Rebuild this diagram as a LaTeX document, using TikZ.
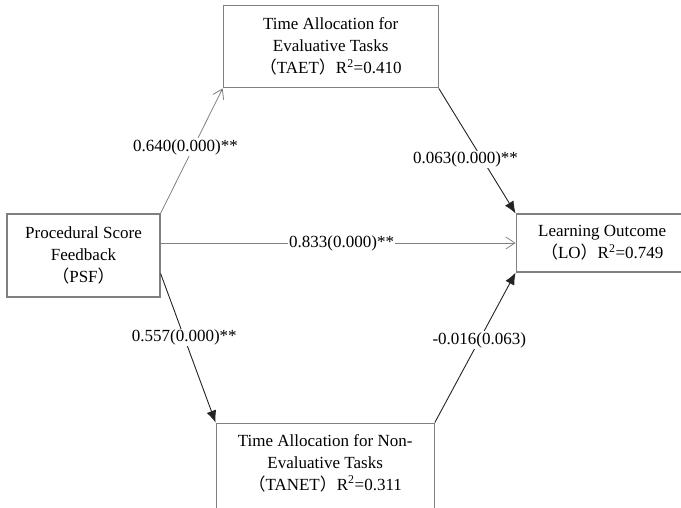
\documentclass[tikz,border=0pt]{standalone}
\usepackage{fontspec}
\setmainfont{Liberation Serif}
\newfontfamily\cjkfont{Noto Sans CJK SC}
\usetikzlibrary{positioning,arrows.meta}
\definecolor{linegray}{RGB}{128,128,128}
\definecolor{darkline}{RGB}{35,35,35}
\newcommand{\cjklp}{{\cjkfont （}}
\newcommand{\cjkrp}{{\cjkfont ）}}

\begin{document}
\begin{tikzpicture}[x=1pt,y=1pt,
    font=\fontsize{17}{22}\selectfont,
    box/.style={draw=linegray, line width=1.2pt, align=center, inner sep=0pt},
    coef/.style={fill=white, inner sep=1pt},
    weak/.style={draw=linegray, line width=0.8pt,
        -{Straight Barb[length=9pt,width=12pt]}},
    strong/.style={draw=darkline, line width=0.9pt,
        -{Latex[length=12pt,width=10pt]}}]
\useasboundingbox (0,0) rectangle (681,-507);
\clip (0,0) rectangle (681,-507);

% Procedural score feedback
\node[box,
    minimum width=153pt,
    minimum height=83pt
] (psf) at (83.5,-255.5) {Procedural Score\\Feedback\\\cjklp PSF\cjkrp};

% Time allocation for evaluative tasks
\node[box,
    minimum width=215pt,
    minimum height=82pt,
    above right=125pt and 62pt of psf.north east
] (taet) {Time Allocation for\\Evaluative Tasks\\\cjklp TAET\cjkrp R\textsuperscript{2}=0.410};

% Learning outcome
\node[box,
    minimum width=172pt,
    minimum height=58pt,
    below right=0pt and 355pt of psf.north east
] (lo) {Learning Outcome\\\cjklp LO\cjkrp R\textsuperscript{2}=0.749};

% Time allocation for non-evaluative tasks
\node[box,
    minimum width=218pt,
    minimum height=100pt,
    below right=125pt and 55pt of psf.south east
] (tanet) {Time Allocation for Non-\\Evaluative Tasks\\\cjklp TANET\cjkrp R\textsuperscript{2}=0.311\\\mbox{}};

% Paths
\draw[weak] (psf.north east) -- (taet.south west)
    node[coef, pos=0.53, xshift=-8pt] {0.640(0.000)**};
\draw[strong] (taet.south east) -- (lo.north west)
    node[coef, pos=0.57, xshift=-17pt] {0.063(0.000)**};
\draw[weak] (lo.west -| psf.east) -- (lo.west)
    node[coef, pos=0.51] {0.833(0.000)**};
\draw[strong] ([yshift=-18pt]psf.east) -- (tanet.north west)
    node[coef, pos=0.43] {0.557(0.000)**};
\draw[strong] (tanet.north east) -- (lo.south west)
    node[coef, pos=0.55] {-0.016(0.063)};

\end{tikzpicture}
\end{document}
